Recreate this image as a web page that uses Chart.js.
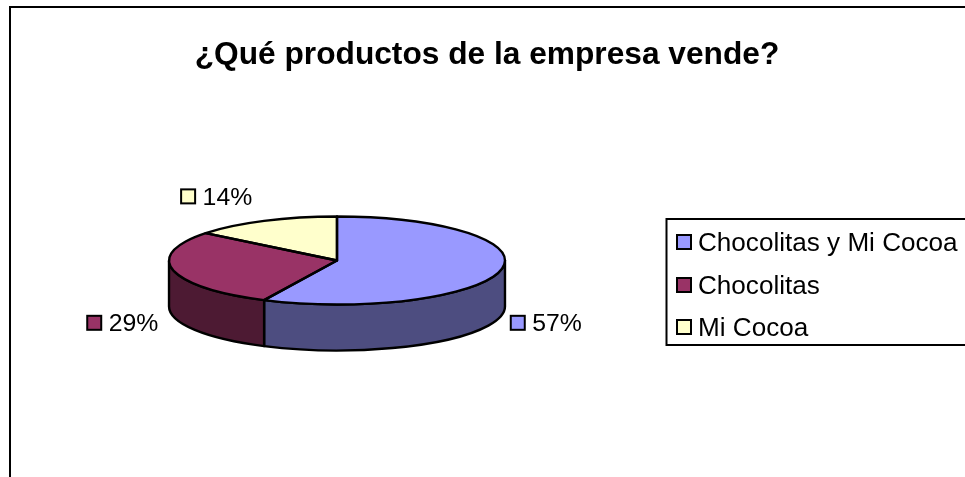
<!DOCTYPE html>
<html>
<head>
<meta charset="utf-8">
<script src="https://cdn.jsdelivr.net/npm/chart.js@4"></script>
<style>html,body{margin:0;padding:0;background:#fff;overflow:hidden}canvas{display:block}</style>
</head>
<body>
<canvas id="c" width="965" height="477"></canvas>
<script>
const titleText = '¿Qué productos de la empresa vende?';
const categories = ['Chocolitas y Mi Cocoa', 'Chocolitas', 'Mi Cocoa'];
const responses = [4, 2, 1];
const percentLabels = ['57%', '29%', '14%'];
const topColors = ['#9999FF', '#993366', '#FFFFCC'];
const wallColors = ['#4D4D80', '#4D1A33', '#80806A'];

const TILT = 44 / 168, DEPTH = 46;
const valueFont = '24.8px "Liberation Sans", Arial, sans-serif';
const legendFont = '26.1px "Liberation Sans", Arial, sans-serif';
const labelOffsets = [[9, 6.5], [-87, 6.5], [-84, -24.5]];
const legendRowY = [242, 285, 327];

function arcs(chart) { return chart.getDatasetMeta(0).data; }

function swatch(ctx, x, cy, color) {
  ctx.fillStyle = color;
  ctx.strokeStyle = '#000';
  ctx.lineWidth = 2;
  ctx.fillRect(x + 1, cy - 7, 14, 14);
  ctx.strokeRect(x + 1, cy - 7, 14, 14);
}

const pie3d = {
  id: 'pie3d',
  beforeDraw(chart) {
    const ctx = chart.ctx;
    ctx.save();
    ctx.fillStyle = '#fff';
    ctx.fillRect(0, 0, chart.width, chart.height);
    ctx.strokeStyle = '#000';
    ctx.lineWidth = 2;
    ctx.beginPath();
    ctx.moveTo(10, chart.height);
    ctx.lineTo(10, 7);
    ctx.lineTo(chart.width, 7);
    ctx.stroke();
    ctx.restore();
    const t = chart.titleBlock;
    t.left = 9; t.right = chart.width; t.width = t.right - t.left;
  },
  beforeDatasetsDraw(chart) {
    const ctx = chart.ctx;
    const first = arcs(chart)[0];
    const cx = first.x, cy = first.y, rx = first.outerRadius, ry = rx * TILT;
    ctx.save();
    ctx.lineWidth = 2.4;
    ctx.strokeStyle = '#000';
    ctx.lineJoin = 'round';
    arcs(chart).forEach((a, i) => {
      const s = Math.max(a.startAngle, 0), e = Math.min(a.endAngle, Math.PI);
      if (e <= s) return;
      ctx.beginPath();
      ctx.ellipse(cx, cy, rx, ry, 0, s, e);
      ctx.ellipse(cx, cy + DEPTH, rx, ry, 0, e, s, true);
      ctx.closePath();
      ctx.fillStyle = wallColors[i];
      ctx.fill();
      ctx.stroke();
    });
    ctx.restore();
    ctx.save();
    ctx.translate(cx, cy);
    ctx.scale(1, TILT);
    ctx.translate(-cx, -cy);
  },
  afterDatasetsDraw(chart) {
    const ctx = chart.ctx;
    ctx.restore();
    const first = arcs(chart)[0];
    const cx = first.x, cy = first.y, rx = first.outerRadius, ry = rx * TILT;
    ctx.save();
    ctx.lineWidth = 2.4;
    ctx.strokeStyle = '#000';
    ctx.lineJoin = 'round';
    arcs(chart).forEach((a) => {
      ctx.beginPath();
      ctx.moveTo(cx, cy);
      ctx.ellipse(cx, cy, rx, ry, 0, a.startAngle, a.endAngle);
      ctx.closePath();
      ctx.stroke();
    });
    ctx.restore();

    // value labels
    ctx.save();
    ctx.font = valueFont;
    ctx.textBaseline = 'middle';
    arcs(chart).forEach((a, i) => {
      const mid = (a.startAngle + a.endAngle) / 2;
      const px = cx + rx * Math.cos(mid);
      const py = cy + ry * Math.sin(mid) + (Math.sin(mid) > 0 ? DEPTH : 0);
      const x = px + labelOffsets[i][0], y = py + labelOffsets[i][1];
      swatch(ctx, x, y, topColors[i]);
      ctx.fillStyle = '#000';
      ctx.fillText(percentLabels[i], x + 22.5, y + 1.5);
    });
    ctx.restore();

    // legend
    ctx.save();
    ctx.strokeStyle = '#000';
    ctx.lineWidth = 2;
    ctx.beginPath();
    ctx.moveTo(chart.width, 219);
    ctx.lineTo(666.5, 219);
    ctx.lineTo(666.5, 345);
    ctx.lineTo(chart.width, 345);
    ctx.stroke();
    ctx.font = legendFont;
    ctx.textBaseline = 'middle';
    categories.forEach((name, i) => {
      swatch(ctx, 676, legendRowY[i], topColors[i]);
      ctx.fillStyle = '#000';
      ctx.fillText(name, 698, legendRowY[i] + 1.5);
    });
    ctx.restore();
  }
};

new Chart(document.getElementById('c'), {
  type: 'pie',
  data: {
    labels: categories,
    datasets: [{
      data: responses,
      backgroundColor: topColors,
      borderWidth: 0,
      clip: false
    }]
  },
  options: {
    responsive: false,
    animation: false,
    events: [],
    layout: { padding: { left: 169, right: 460, top: 36, bottom: 48.5 } },
    plugins: {
      legend: { display: false },
      tooltip: { enabled: false },
      title: {
        display: true,
        text: titleText,
        color: '#000',
        font: { family: '"Liberation Sans", Arial, sans-serif', size: 31.7, weight: 'bold', lineHeight: 1.2 },
        padding: { top: 0, bottom: 18.5 }
      }
    }
  },
  plugins: [pie3d]
});
</script>
</body>
</html>
